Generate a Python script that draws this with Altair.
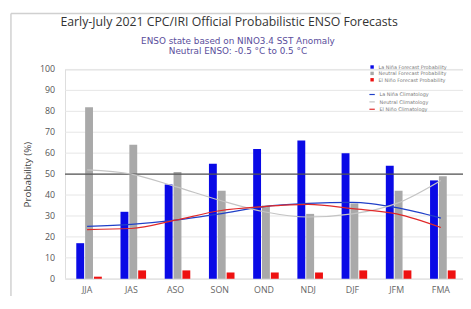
import altair as alt
import pandas as pd

seasons = ["JJA", "JAS", "ASO", "SON", "OND", "NDJ", "DJF", "JFM", "FMA"]
la_nina = [17, 32, 45, 55, 62, 66, 60, 54, 47]
neutral = [82, 64, 51, 42, 35, 31, 36, 42, 49]
el_nino = [1, 4, 4, 3, 3, 3, 4, 4, 4]
la_nina_clim = [25, 26, 28, 31, 34.5, 36, 36.5, 34, 29]
neutral_clim = [52, 50, 44, 37.5, 32, 29.5, 31, 36, 47]
el_nino_clim = [23.5, 24, 28, 32.5, 34.5, 35.5, 33.5, 31, 24.5]
y_ticks = [0, 10, 20, 30, 40, 50, 60, 70, 80, 90, 100]
ref_level = [50]

prob_names = ["La Niña Forecast Probability", "Neutral Forecast Probability", "El Niño Forecast Probability"]
clim_names = ["La Niña Climatology", "Neutral Climatology", "El Niño Climatology"]
title_text = "Early-July 2021 CPC/IRI Official Probabilistic ENSO Forecasts"
subtitle_1 = "ENSO state based on NINO3.4 SST Anomaly"
subtitle_2 = "Neutral ENSO: -0.5 °C to 0.5 °C"

FONT = "Open Sans"
WIDE = "DejaVu Sans"

bar_rows = []
for name, vals in zip(prob_names, [la_nina, neutral, el_nino]):
    for s, v in zip(seasons, vals):
        bar_rows.append({"season": s, "series": name, "value": v})
bars_df = pd.DataFrame(bar_rows)

line_rows = []
for name, vals in zip(clim_names, [la_nina_clim, neutral_clim, el_nino_clim]):
    for i, (s, v) in enumerate(zip(seasons, vals)):
        line_rows.append({"season": s, "clim": name, "value": v, "idx": i})
lines_df = pd.DataFrame(line_rows)

ticks_df = pd.DataFrame({"value": y_ticks, "label": [str(v) for v in y_ticks]})

x_enc = alt.X(
    "season:N",
    sort=seasons,
    scale=alt.Scale(domain=seasons, paddingInner=0, paddingOuter=0),
    axis=alt.Axis(
        title="Season", labelAngle=0, ticks=False, domain=False, grid=False,
        labelPadding=7, labelFontSize=9, labelColor="#666", labelFont=FONT,
        titleFontSize=10, titleFontWeight="normal", titleColor="#555", titleFont=FONT,
        titlePadding=3, labelOverlap=False,
    ),
)
y_scale = alt.Scale(domain=[0, 100], nice=False)
y_axis = alt.Axis(
    title="Probability (%)", labels=False, ticks=False, domain=False, grid=False,
    titleFontSize=10, titleFontWeight="normal", titleColor="#444", titleFont=FONT,
    titlePadding=33,
)
y_enc = alt.Y("value:Q", scale=y_scale, axis=y_axis)

grid = alt.Chart(ticks_df).mark_rule(color="#e6e6e6", strokeWidth=1).encode(y=y_enc)

tick_labels = alt.Chart(ticks_df).mark_text(
    font=FONT, fontSize=9, color="#555", align="right", baseline="middle"
).encode(y=y_enc, x=alt.value(-10), text="label:N")

bars = alt.Chart(bars_df).mark_bar(width=alt.RelativeBandSize(0.89)).encode(
    x=x_enc,
    xOffset=alt.XOffset(
        "series:N", sort=prob_names,
        scale=alt.Scale(domain=prob_names, paddingInner=0, paddingOuter=1),
    ),
    y=y_enc,
    color=alt.Color(
        "series:N",
        scale=alt.Scale(domain=prob_names, range=["#0a0ae6", "#a9a9a9", "#ee1111"]),
        legend=alt.Legend(
            title=None, orient="none", legendX=310, legendY=-5, symbolType="square",
            symbolSize=12, symbolStrokeWidth=0, labelFontSize=5, labelColor="#777",
            labelFont=WIDE, rowPadding=0.5, labelOffset=4, padding=0,
        ),
    ),
)

ref50 = alt.Chart(pd.DataFrame({"value": ref_level})).mark_rule(
    color="#555", strokeWidth=1.3
).encode(y=y_enc)

lines = alt.Chart(lines_df).mark_line(interpolate="monotone", strokeWidth=1.2).encode(
    x=x_enc,
    y=y_enc,
    order=alt.Order("idx:Q"),
    stroke=alt.Stroke(
        "clim:N",
        scale=alt.Scale(domain=clim_names, range=["#2040c8", "#c4c4c4", "#e02828"]),
        legend=alt.Legend(
            title=None, orient="none", legendX=309, legendY=22, symbolType="stroke",
            symbolSize=30, symbolStrokeWidth=1.2, labelFontSize=5, labelColor="#777",
            labelFont=WIDE, rowPadding=0.5, labelOffset=4, padding=0,
        ),
    ),
)

frame_df = pd.DataFrame({"a": [0]})
frame_left = alt.Chart(frame_df).mark_rule(color="#d0d0d0", strokeWidth=1.5).encode(
    x=alt.value(-55), y=alt.value(-57), y2=alt.value(245)
)
frame_top = alt.Chart(frame_df).mark_rule(color="#d0d0d0", strokeWidth=1.5).encode(
    x=alt.value(-55), x2=alt.value(281), y=alt.value(-57)
)

title_mark = alt.Chart(pd.DataFrame({"t": [title_text]})).mark_text(
    font=FONT, fontSize=12.5, color="#333", align="center", baseline="middle"
).encode(text="t:N", x=alt.value(167), y=alt.value(-48))

sub1_mark = alt.Chart(pd.DataFrame({"t": [subtitle_1]})).mark_text(
    font=WIDE, fontSize=9, color="#5a4e9c", align="center", baseline="middle"
).encode(text="t:N", x=alt.value(176), y=alt.value(-29))

sub2_mark = alt.Chart(pd.DataFrame({"t": [subtitle_2]})).mark_text(
    font=WIDE, fontSize=9, color="#5a4e9c", align="center", baseline="middle"
).encode(text="t:N", x=alt.value(176), y=alt.value(-19))

chart = alt.layer(
    frame_left, frame_top, grid, tick_labels, bars, ref50, lines,
    title_mark, sub1_mark, sub2_mark
).properties(
    width=405,
    height=213,
    padding={"left": 58, "top": 60, "right": 0, "bottom": 15},
    autosize=alt.AutoSizeParams(type="none"),
).resolve_scale(color="independent").configure_view(stroke=None).configure(background="white")

chart.save("out.html", embed_options={"renderer": "svg", "actions": False})
